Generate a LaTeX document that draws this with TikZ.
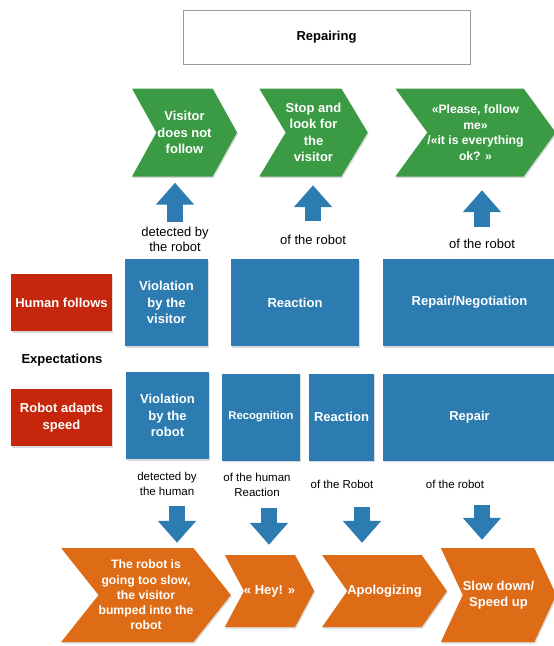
\documentclass[tikz,border=0pt]{standalone}
\usepackage{fontspec}
\setmainfont{Liberation Sans}
\usetikzlibrary{shapes.symbols,arrows.meta,shadows}

\definecolor{boxblue}{RGB}{45,124,177}
\definecolor{chevgreen}{RGB}{58,155,68}
\definecolor{labelred}{RGB}{197,38,12}
\definecolor{chevorange}{RGB}{222,108,22}

\tikzset{
  bigtext/.style={font=\fontsize{13}{16.5}\selectfont\bfseries},
  smalltext/.style={font=\fontsize{11.5}{15}\selectfont},
  softshadow/.style={drop shadow={shadow xshift=1pt,shadow yshift=-1.5pt,opacity=0.3}},
  chevron/.style={signal,signal to=east,signal from=west,text=white,align=center,inner sep=0pt,softshadow},
}

\begin{document}
\begin{tikzpicture}[x=1pt,y=-1pt]
        \useasboundingbox (0,0) rectangle (554,646);

        \node[draw=black!40,line width=1pt,minimum width=287pt,minimum height=54pt,bigtext] (title) at (326.5,37) {Repairing};

        \begin{scope}[every node/.style={chevron,fill=chevgreen,minimum height=88pt,bigtext}]
            \node[minimum width=105pt,signal pointer angle=122] (g1) at (184.5,132.5) {Visitor\\does not\\follow};
            \node[minimum width=107pt,signal pointer angle=118] (g2) at (313.5,132.5) {Stop and\\look for\\the\\visitor};
            \node[minimum width=155pt,signal pointer angle=108,font=\fontsize{12.2}{15.5}\selectfont\bfseries] (g3) at (475.5,132.5) {«Please, follow\\me»\\/«it is everything\\ok? »};
        \end{scope}

        \begin{scope}[every node/.style={align=center,font=\fontsize{13}{15}\selectfont}]
            \node (lr1) at (175,239) {detected by\\the robot};
            \node (lr2) at (313,240) {of the robot};
            \node (lr3) at (482,244) {of the robot};
        \end{scope}

        \begin{scope}[every node/.style={fill=labelred,text=white,align=center,bigtext,softshadow,minimum width=101pt,minimum height=57pt}]
            \node (human) at (61.5,302.5) {Human follows};
            \node (robot) at (61.5,417.5) {Robot adapts\\speed};
        \end{scope}
        \node[bigtext] (expect) at (62,360) {Expectations};

        \begin{scope}[every node/.style={fill=boxblue,text=white,align=center,bigtext,softshadow,minimum height=87pt}]
            \node[minimum width=83pt] (vv) at (166.5,302.5) {Violation\\by the\\visitor};
            \node[minimum width=128pt] (rv) at (295,302.5) {Reaction};
            \node[minimum width=173pt] (nv) at (469.5,302.5) {Repair/Negotiation};

            \node[minimum width=83pt] (vr) at (167.5,415.5) {Violation\\by the\\robot};
            \node[minimum width=78pt,font=\fontsize{11.3}{14}\selectfont\bfseries] (cr) at (261,417) {Recognition};
            \node[minimum width=65pt] (rr) at (341.5,417) {Reaction};
            \node[minimum width=173pt] (pr) at (469.5,417) {Repair};
        \end{scope}

        \begin{scope}[every node/.style={align=center,smalltext}]
            \node (lh1) at (167,484) {detected by\\the human};
            \node (lh2) at (257,485) {of the human\\Reaction};
            \node (lh3) at (342,484) {of the Robot};
            \node (lh4) at (455,484) {of the robot};
        \end{scope}

        \begin{scope}[every node/.style={chevron,fill=chevorange,bigtext}]
            \node[minimum width=168pt,minimum height=94pt,signal pointer angle=103,font=\fontsize{12.2}{15.3}\selectfont\bfseries] (o1) at (146,595) {The robot is\\going too slow,\\the visitor\\bumped into the\\robot};
            \node[minimum width=85pt,minimum height=72pt,signal pointer angle=124] (o2) at (269.5,591) {« Hey! »};
            \node[minimum width=121pt,minimum height=72pt,signal pointer angle=110] (o3) at (384.5,591) {Apologizing};
            \node[minimum width=109pt,minimum height=94pt,signal pointer angle=130] (o4) at (498.5,595) {Slow down/\\Speed up};
        \end{scope}

        \coordinate (u1) at (175,222);
        \coordinate (u2) at (313,221);
        \coordinate (u3) at (482,227);
        \coordinate (w1) at (177,506);
        \coordinate (w2) at (269,508);
        \coordinate (w3) at (362,507);
        \coordinate (w4) at (482,505);

        \begin{scope}[every edge/.style={draw=boxblue,line width=16pt,-{Triangle[width=37pt,length=22pt]}}]
            \path (u1) edge[shorten >=6pt] (u1 |- g1.south);
            \path (u2) edge[shorten >=8.5pt] (u2 |- g2.south);
            \path (u3) edge[shorten >=13.5pt] (u3 |- g3.south);

            \path (w1) edge[shorten >=5pt] (w1 |- o1.north);
            \path (w2) edge[shorten >=10pt] (w2 |- o2.north);
            \path (w3) edge[shorten >=12pt] (w3 |- o3.north);
            \path (w4) edge[shorten >=8pt] (w4 |- o4.north);
        \end{scope}
\end{tikzpicture}
\end{document}
